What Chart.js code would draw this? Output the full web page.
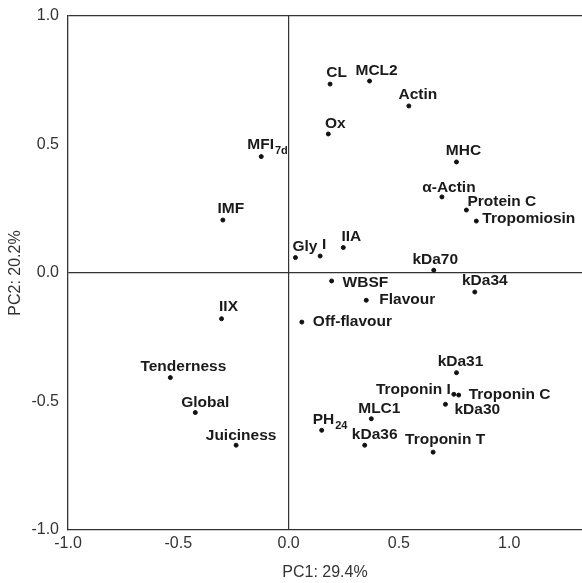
<!DOCTYPE html>
<html>
<head>
<meta charset="utf-8">
<script src="https://cdn.jsdelivr.net/npm/chart.js@4/dist/chart.umd.min.js"></script>
<style>
  body { margin: 0; background: #fff; }
  canvas { display: block; }
</style>
</head>
<body>
<canvas id="grafico" width="582" height="583"></canvas>
<script>
// --- dados ---
const nomes = ['CL', 'MCL2', 'Actin', 'Ox', 'MHC', 'α-Actin', 'Protein C', 'Tropomiosin',
  'Gly', 'I', 'IIA', 'kDa70', 'WBSF', 'kDa34', 'Flavour', 'Off-flavour',
  'kDa31', 'Troponin I', 'Troponin C', 'kDa30', 'MLC1', 'PH', 'kDa36', 'Troponin T',
  'MFI', 'IMF', 'IIX', 'Tenderness', 'Global', 'Juiciness'];
const subscritos = ['', '', '', '', '', '', '', '', '', '', '', '', '', '', '', '',
  '', '', '', '', '', '24', '', '', '7d', '', '', '', '', ''];
const pc1 = [0.188, 0.367, 0.545, 0.180, 0.761, 0.695, 0.806, 0.851,
  0.031, 0.143, 0.248, 0.658, 0.195, 0.844, 0.352, 0.060,
  0.761, 0.749, 0.771, 0.711, 0.375, 0.150, 0.345, 0.655,
  -0.124, -0.298, -0.304, -0.536, -0.423, -0.238];
const pc2 = [0.735, 0.747, 0.650, 0.541, 0.432, 0.296, 0.245, 0.202,
  0.060, 0.066, 0.099, 0.011, -0.031, -0.074, -0.106, -0.191,
  -0.388, -0.472, -0.475, -0.511, -0.567, -0.612, -0.670, -0.697,
  0.453, 0.206, -0.178, -0.407, -0.543, -0.670];
const ticksX = [-1.0, -0.5, 0.0, 0.5, 1.0];
const ticksY = [-1.0, -0.5, 0.0, 0.5, 1.0];

// posição dos rótulos em relação ao ponto: [dx, dy da linha de base, alinhamento]
const posRotulo = [
  [6.5, -7, 'center'], [7, -6, 'center'], [9, -7, 'center'], [7, -6, 'center'],
  [7, -7, 'center'], [7, -5, 'center'], [1, -4, 'left'], [6, 2, 'left'],
  [-3, -7, 'left'], [4, -7, 'center'], [8, -7, 'center'], [1.5, -6, 'center'],
  [11, 6, 'left'], [10, -7, 'center'], [13, 3.5, 'left'], [11, 4, 'left'],
  [4, -7, 'center'], [-3, 0, 'right'], [10, 3.5, 'left'], [9, 9.5, 'left'],
  [8, -5.5, 'center'], [-9, -6.5, 'left'], [10, -6, 'center'], [12, -8, 'center'],
  [-14, -8, 'left'], [8, -7, 'center'], [7, -8, 'center'], [13, -7, 'center'],
  [10, -6, 'center'], [5, -5, 'center']
];

const FONTE = '"Liberation Sans", Arial, Helvetica, sans-serif';
const COR_EIXO = '#333';

const rotulos = {
  id: 'rotulos',
  afterDatasetsDraw(chart) {
    const ctx = chart.ctx;
    const meta = chart.getDatasetMeta(0);
    ctx.save();
    ctx.fillStyle = '#1a1a1a';
    ctx.textBaseline = 'alphabetic';
    ctx.textAlign = 'left';
    meta.data.forEach((pt, i) => {
      const [dx, dy, al] = posRotulo[i];
      ctx.font = 'bold 15.5px ' + FONTE;
      const wPrinc = ctx.measureText(nomes[i]).width;
      let wSub = 0;
      if (subscritos[i]) {
        ctx.font = 'bold 11px ' + FONTE;
        wSub = ctx.measureText(subscritos[i]).width + 1;
      }
      const total = wPrinc + wSub;
      let x = pt.x + dx;
      if (al === 'center') x -= total / 2;
      else if (al === 'right') x -= total;
      const y = pt.y + dy;
      ctx.font = 'bold 15.5px ' + FONTE;
      ctx.fillText(nomes[i], x, y);
      if (subscritos[i]) {
        ctx.font = 'bold 11px ' + FONTE;
        ctx.fillText(subscritos[i], x + wPrinc + 1, y + 5);
      }
    });
    ctx.restore();
  }
};

new Chart(document.getElementById('grafico'), {
  type: 'scatter',
  data: {
    datasets: [{
      data: pc1.map((v, i) => ({ x: v, y: pc2[i] })),
      backgroundColor: '#111',
      borderColor: '#111',
      pointRadius: 2,
      pointHoverRadius: 2
    }]
  },
  options: {
    responsive: false,
    animation: false,
    layout: { autoPadding: false, padding: { top: 16, right: 0, left: 0, bottom: 0 } },
    plugins: { legend: { display: false }, tooltip: { enabled: false } },
    scales: {
      x: {
        type: 'linear',
        min: -1.0,
        max: 1.33,
        afterBuildTicks: s => { s.ticks = ticksX.map(v => ({ value: v })); },
        afterFit: s => { s.height = 53; s.paddingLeft = 0; s.paddingRight = 0; },
        ticks: {
          padding: 4,
          color: COR_EIXO,
          font: { family: FONTE, size: 16 },
          maxRotation: 0,
          callback: v => v.toFixed(1)
        },
        grid: {
          drawTicks: false,
          lineWidth: 1.2,
          color: c => (c.tick && c.tick.value === 0 ? COR_EIXO : 'rgba(0,0,0,0)')
        },
        border: { display: true, color: COR_EIXO, width: 1.3 },
        title: {
          display: true,
          text: 'PC1: 29.4%',
          color: COR_EIXO,
          font: { family: FONTE, size: 16 },
          padding: { top: 0, bottom: 1 }
        }
      },
      y: {
        type: 'linear',
        min: -1.0,
        max: 1.0,
        afterBuildTicks: s => { s.ticks = ticksY.map(v => ({ value: v })); },
        afterFit: s => { s.width = 68; s.paddingTop = 0; s.paddingBottom = 0; },
        ticks: {
          padding: 9,
          color: COR_EIXO,
          font: { family: FONTE, size: 16 },
          callback: v => v.toFixed(1)
        },
        grid: {
          drawTicks: false,
          lineWidth: 1.2,
          color: c => (c.tick && (c.tick.value === 0 || c.tick.value === 1) ? COR_EIXO : 'rgba(0,0,0,0)')
        },
        border: { display: true, color: COR_EIXO, width: 1.3 },
        title: {
          display: true,
          text: 'PC2: 20.2%',
          color: COR_EIXO,
          font: { family: FONTE, size: 16 },
          padding: { top: 6, bottom: 0 }
        }
      }
    }
  },
  plugins: [rotulos]
});
</script>
</body>
</html>
